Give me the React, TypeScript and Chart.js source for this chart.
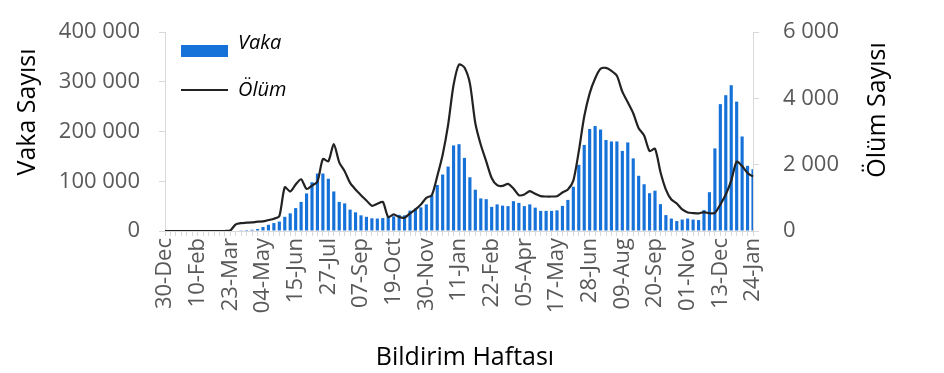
import React, { useEffect, useRef } from 'react';
import { Chart, registerables } from 'chart.js';

Chart.register(...registerables);

const weeks = [
  '30-Dec', '06-Jan', '13-Jan', '20-Jan', '27-Jan', '03-Feb', '10-Feb', '17-Feb', '24-Feb', '02-Mar',
  '09-Mar', '16-Mar', '23-Mar', '30-Mar', '06-Apr', '13-Apr', '20-Apr', '27-Apr', '04-May', '11-May',
  '18-May', '25-May', '01-Jun', '08-Jun', '15-Jun', '22-Jun', '29-Jun', '06-Jul', '13-Jul', '20-Jul',
  '27-Jul', '03-Aug', '10-Aug', '17-Aug', '24-Aug', '31-Aug', '07-Sep', '14-Sep', '21-Sep', '28-Sep',
  '05-Oct', '12-Oct', '19-Oct', '26-Oct', '02-Nov', '09-Nov', '16-Nov', '23-Nov', '30-Nov', '07-Dec',
  '14-Dec', '21-Dec', '28-Dec', '04-Jan', '11-Jan', '18-Jan', '25-Jan', '01-Feb', '08-Feb', '15-Feb',
  '22-Feb', '01-Mar', '08-Mar', '15-Mar', '22-Mar', '29-Mar', '05-Apr', '12-Apr', '19-Apr', '26-Apr',
  '03-May', '10-May', '17-May', '24-May', '31-May', '07-Jun', '14-Jun', '21-Jun', '28-Jun', '05-Jul',
  '12-Jul', '19-Jul', '26-Jul', '02-Aug', '09-Aug', '16-Aug', '23-Aug', '30-Aug', '06-Sep', '13-Sep',
  '20-Sep', '27-Sep', '04-Oct', '11-Oct', '18-Oct', '25-Oct', '01-Nov', '08-Nov', '15-Nov', '22-Nov',
  '29-Nov', '06-Dec', '13-Dec', '20-Dec', '27-Dec', '03-Jan', '10-Jan', '17-Jan', '24-Jan',
];

const cases = [
  0, 0, 0, 0, 0, 0, 0, 0, 0, 0,
  0, 0, 500, 1000, 1500, 2000, 2500, 4000, 8000, 12500,
  16000, 19000, 28500, 35500, 46000, 58500, 75500, 98000, 115500, 115500,
  105000, 79500, 58500, 55500, 43000, 37500, 31500, 28500, 25500, 25000,
  26000, 29000, 29500, 32500, 31500, 41000, 45000, 47500, 53500, 72000,
  92500, 113500, 129500, 172000, 174500, 147000, 108000, 83000, 65500, 64000,
  48500, 53500, 51000, 50000, 60000, 56500, 50000, 53500, 47000, 40500,
  40500, 40500, 41500, 50500, 62500, 89000, 133000, 173000, 205000, 211000,
  204000, 183000, 180000, 180000, 161000, 178000, 146000, 111000, 94000, 76000,
  81000, 54000, 32000, 25000, 20000, 23000, 25000, 23000, 22000, 42000,
  78000, 166000, 255000, 273000, 293000, 260000, 190000, 131000, 124000,
];

const deaths = [
  0, 0, 0, 0, 0, 0, 0, 0, 0, 0,
  0, 0, 20, 200, 240, 250, 260, 280, 290, 330,
  370, 450, 1320, 1190, 1400, 1560, 1270, 1370, 1490, 2170,
  2100, 2620, 2070, 1800, 1450, 1250, 1080, 920, 760, 820,
  880, 420, 500, 420, 400, 530, 650, 800, 1000, 1080,
  1650, 2300, 3200, 4400, 5020, 4930, 4450, 3250, 2600, 2100,
  1600, 1380, 1360, 1420, 1280, 1080, 1100, 1200, 1120, 1050,
  1040, 1040, 1050, 1160, 1250, 1520, 2400, 3450, 4150, 4600,
  4890, 4920, 4830, 4680, 4200, 3880, 3550, 3100, 2880, 2410,
  2480, 1780, 1250, 950, 830, 650, 560, 540, 530, 570,
  535, 545, 800, 1100, 1520, 2090, 1960, 1750, 1640,
];

const caseTickLabels = ['0', '100 000', '200 000', '300 000', '400 000'];
const deathTickLabels = ['0', '2 000', '4 000', '6 000'];
const seriesNames = ['Vaka', 'Ölüm'];
const leftTitle = 'Vaka Sayısı';
const rightTitle = 'Ölüm Sayısı';
const bottomTitle = 'Bildirim Haftası';

const FONT = '"Open Sans", sans-serif';
const BAR_COLOR = '#1672D9';
const LINE_COLOR = '#222222';
const TICK_COLOR = '#595959';
const AXIS_COLOR = '#D9D9D9';

const overlayPlugin = {
  id: 'overlay',
  afterDraw(chart: any) {
    const { ctx, chartArea: ca } = chart;
    ctx.save();
    // legend inside plot area
    const lx = ca.left + 16;
    ctx.fillStyle = BAR_COLOR;
    ctx.fillRect(lx, ca.top + 13, 47, 12);
    ctx.strokeStyle = LINE_COLOR;
    ctx.lineWidth = 2;
    ctx.beginPath();
    ctx.moveTo(lx, ca.top + 58);
    ctx.lineTo(lx + 47, ca.top + 58);
    ctx.stroke();
    ctx.font = `italic 20px ${FONT}`;
    ctx.fillStyle = '#000';
    ctx.textAlign = 'left';
    ctx.textBaseline = 'middle';
    ctx.fillText(seriesNames[0], lx + 57, ca.top + 11);
    ctx.fillText(seriesNames[1], lx + 57, ca.top + 58);
    // axis titles
    ctx.font = `25px ${FONT}`;
    ctx.textAlign = 'center';
    ctx.textBaseline = 'alphabetic';
    ctx.fillText(bottomTitle, 465, 365);
    ctx.save();
    ctx.translate(35, 112);
    ctx.rotate(-Math.PI / 2);
    ctx.fillText(leftTitle, 0, 0);
    ctx.restore();
    ctx.save();
    ctx.translate(885, 110);
    ctx.rotate(-Math.PI / 2);
    ctx.fillText(rightTitle, 0, 0);
    ctx.restore();
    ctx.restore();
  },
};

export default function App() {
  const ref = useRef<HTMLCanvasElement | null>(null);

  useEffect(() => {
    if (!ref.current) return;
    const chart = new Chart(ref.current, {
      type: 'bar',
      data: {
        labels: weeks,
        datasets: [
          {
            type: 'bar',
            label: seriesNames[0],
            data: cases,
            backgroundColor: BAR_COLOR,
            borderWidth: 0,
            categoryPercentage: 1,
            barPercentage: 0.58,
            yAxisID: 'y',
            order: 1,
          } as any,
          {
            type: 'line',
            label: seriesNames[1],
            data: deaths,
            borderColor: LINE_COLOR,
            borderWidth: 2.2,
            pointRadius: 0,
            tension: 0.25,
            fill: false,
            yAxisID: 'y1',
            order: 0,
          } as any,
        ],
      },
      options: {
        responsive: false,
        animation: false,
        devicePixelRatio: 1,
        layout: { padding: { top: 32, left: 0, right: 0, bottom: 0 } },
        plugins: {
          legend: { display: false },
          tooltip: { enabled: false },
        },
        scales: {
          x: {
            offset: false,
            grid: {
              offset: false,
              drawOnChartArea: false,
              drawTicks: true,
              tickLength: 5,
              color: AXIS_COLOR,
            },
            border: { display: true, color: AXIS_COLOR },
            ticks: {
              autoSkip: false,
              minRotation: 90,
              maxRotation: 90,
              padding: 2,
              color: TICK_COLOR,
              font: { family: FONT, size: 22 },
              callback: (_v: any, i: number) => (i % 6 === 0 ? weeks[i] : ''),
            },
            afterFit: (s: any) => {
              s.height = 142;
              s.paddingLeft = 0;
              s.paddingRight = 0;
            },
          },
          y: {
            position: 'left',
            min: 0,
            max: 400000,
            grid: {
              drawOnChartArea: false,
              drawTicks: true,
              tickLength: 6,
              color: AXIS_COLOR,
            },
            border: { display: true, color: AXIS_COLOR },
            ticks: {
              stepSize: 100000,
              padding: 19,
              color: TICK_COLOR,
              font: { family: FONT, size: 22 },
              callback: (_v: any, i: number) => caseTickLabels[i],
            },
            afterFit: (s: any) => {
              s.width = 165;
              s.paddingTop = 0;
              s.paddingBottom = 0;
            },
          },
          y1: {
            position: 'right',
            min: 0,
            max: 6000,
            grid: {
              drawOnChartArea: false,
              drawTicks: true,
              tickLength: 6,
              color: AXIS_COLOR,
            },
            border: { display: true, color: AXIS_COLOR },
            ticks: {
              stepSize: 2000,
              padding: 24,
              color: TICK_COLOR,
              font: { family: FONT, size: 22 },
              callback: (_v: any, i: number) => deathTickLabels[i],
            },
            afterFit: (s: any) => {
              s.width = 191;
              s.paddingTop = 0;
              s.paddingBottom = 0;
            },
          },
        },
      } as any,
      plugins: [overlayPlugin],
    });
    return () => chart.destroy();
  }, []);

  return (
    <div style={{ position: 'absolute', left: 0, top: 0, width: 944, height: 373, background: '#fff' }}>
      <canvas ref={ref} width={944} height={373} style={{ width: 944, height: 373, display: 'block' }} />
    </div>
  );
}
